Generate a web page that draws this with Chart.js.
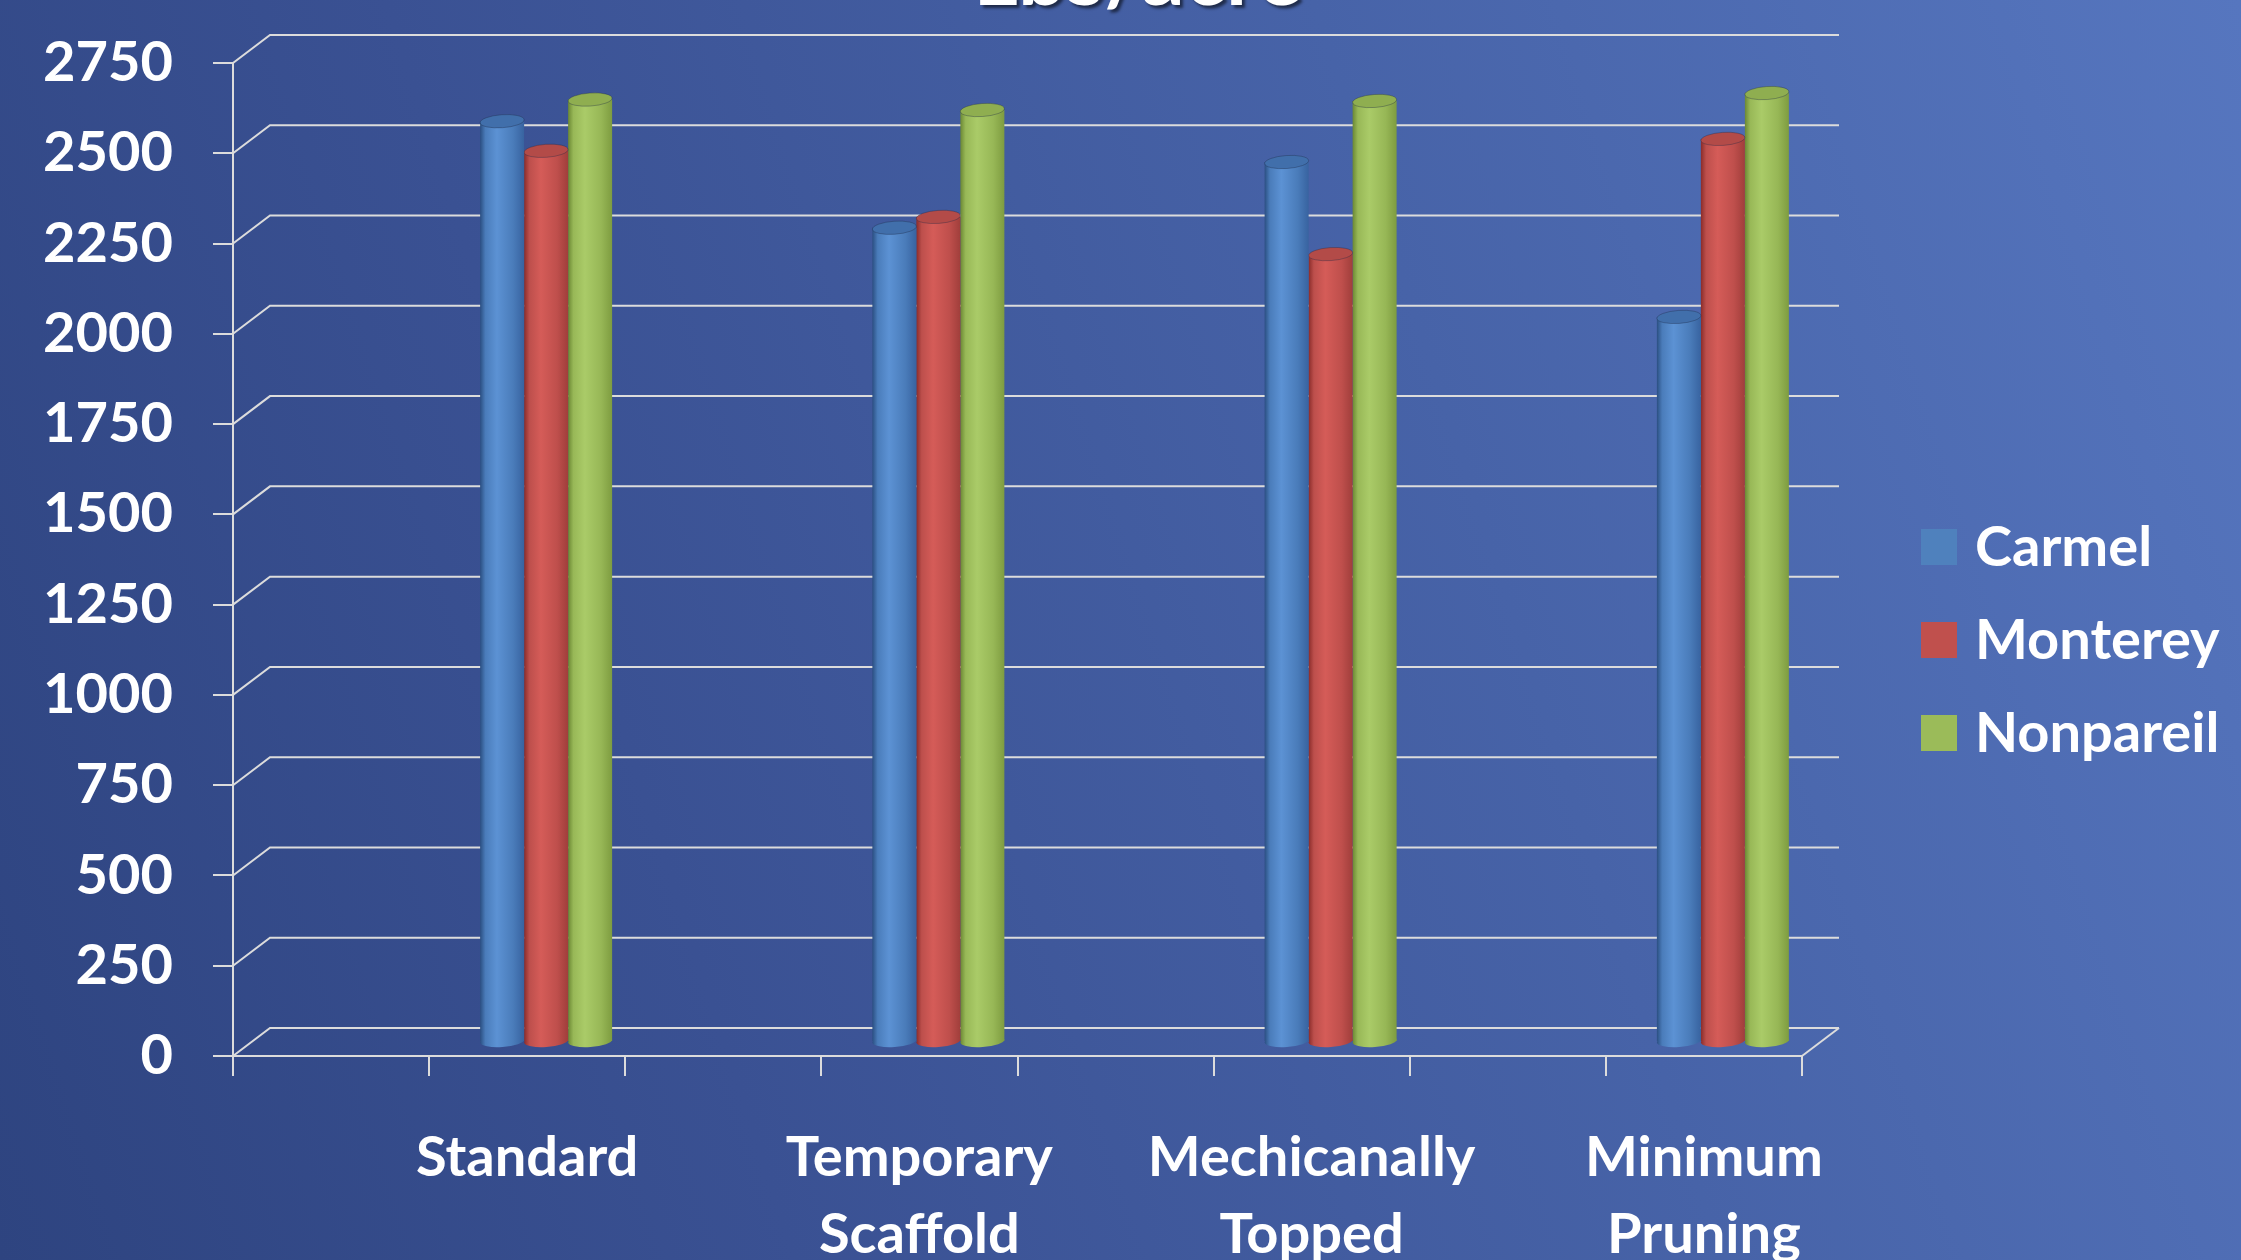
<!DOCTYPE html>
<html>
<head>
<meta charset="utf-8">
<script src="https://cdn.jsdelivr.net/npm/chart.js@4.4.1/dist/chart.umd.min.js"></script>
<style>
  html, body {
    margin: 0; padding: 0; width: 2241px; height: 1260px; overflow: hidden;
    background: linear-gradient(72deg, #2e4480 0%, #3a5193 30%, #4763a8 65%, #5676bf 100%);
  }
  #wrap { position: absolute; left: 0; top: -70px; width: 2241px; height: 1380px; }
</style>
</head>
<body>
<div id="wrap"><canvas id="c" width="2241" height="1380"></canvas></div>
<script>
// Yield per training system (lbs/acre) for three almond varieties
const categories = [['Standard'], ['Temporary', 'Scaffold'], ['Mechicanally', 'Topped'], ['Minimum', 'Pruning']];
const seriesNames = ['Carmel', 'Monterey', 'Nonpareil'];
const carmel    = [2550, 2255, 2437, 2008];
const monterey  = [2468, 2285, 2182, 2501];
const nonpareil = [2610, 2581, 2606, 2628];
const yMin = 0, yMax = 2750, yStep = 250;
const titleText = 'Lbs/acre';

const FONT = 'Lato, "Open Sans", sans-serif';
const GRID = '#dcdcdc';
const DEPTH = { dx: 37, dy: -28 };        // back wall offset of the 3D frame
const BAR_SHIFT = { dx: 117, dy: -14 };   // bars stand mid-depth on the floor

// Cylinder shading: [dark edge, lit, mid, right edge, cap]
const SHADES = [
  { legend: '#4f81bd', stops: ['#2b4f82', '#4a7cba', '#5c92d4', '#4a7cba', '#3863a0'], cap: '#416fab' },
  { legend: '#c0504d', stops: ['#8a2c2a', '#bd4f4c', '#d55c58', '#bf4f4c', '#a03e3b'], cap: '#b34b48' },
  { legend: '#9bbb59', stops: ['#6b8834', '#98b857', '#aacb68', '#97b756', '#7e9c40'], cap: '#8fae50' }
];

function cylGradient(ctx, x, w, stops) {
  const g = ctx.createLinearGradient(x - w / 2, 0, x + w / 2, 0);
  g.addColorStop(0, stops[0]);
  g.addColorStop(0.12, stops[1]);
  g.addColorStop(0.38, stops[2]);
  g.addColorStop(0.75, stops[3]);
  g.addColorStop(1, stops[4]);
  return g;
}

// Back wall gridlines, floor edge and mid-category tick marks of the 3D frame
const frame3d = {
  id: 'frame3d',
  beforeDatasetsDraw(chart) {
    const { ctx, chartArea: a, scales: { x, y } } = chart;
    ctx.save();
    ctx.strokeStyle = GRID;
    ctx.lineWidth = 2;
    y.ticks.forEach(t => {
      const py = y.getPixelForValue(t.value);
      ctx.beginPath();
      ctx.moveTo(a.left, py);
      ctx.lineTo(a.left + DEPTH.dx, py + DEPTH.dy);
      ctx.lineTo(a.right + DEPTH.dx, py + DEPTH.dy);
      ctx.stroke();
    });
    ctx.beginPath();
    ctx.moveTo(a.right, a.bottom);
    ctx.lineTo(a.right + DEPTH.dx, a.bottom + DEPTH.dy);
    ctx.stroke();
    x.ticks.forEach((t, i) => {
      const px = Math.round(x.getPixelForTick(i));
      ctx.beginPath();
      ctx.moveTo(px, a.bottom);
      ctx.lineTo(px, a.bottom + 20);
      ctx.stroke();
    });
    ctx.restore();
  }
};

// Turns each bar into a shaded cylinder standing inside the frame
const cylinders = {
  id: 'cylinders',
  beforeDatasetDraw(chart, args) {
    const { ctx } = chart;
    const shade = SHADES[args.index];
    ctx.save();
    ctx.translate(BAR_SHIFT.dx, BAR_SHIFT.dy);
    args.meta.data.forEach(el => {
      const { x, base, width } = el.getProps(['x', 'base', 'width'], true);
      const g = cylGradient(ctx, x, width, shade.stops);
      el.options = Object.assign({}, el.options, { backgroundColor: g });
      ctx.beginPath();
      ctx.ellipse(x, base, width / 2, 6, -0.07, 0, Math.PI * 2);
      ctx.fillStyle = g;
      ctx.fill();
    });
  },
  afterDatasetDraw(chart, args) {
    const { ctx } = chart;
    const shade = SHADES[args.index];
    args.meta.data.forEach(el => {
      const { x, y, width } = el.getProps(['x', 'y', 'width'], true);
      ctx.beginPath();
      ctx.ellipse(x, y, width / 2, 6.5, -0.07, 0, Math.PI * 2);
      ctx.fillStyle = shade.cap;
      ctx.fill();
      ctx.strokeStyle = 'rgba(30,40,70,0.35)';
      ctx.lineWidth = 1;
      ctx.stroke();
    });
    ctx.restore();
  }
};

// Title (partly above the top edge) and legend on the right
const decorations = {
  id: 'decorations',
  afterDraw(chart) {
    const { ctx } = chart;
    ctx.save();
    ctx.font = 'bold 86px ' + FONT;
    ctx.textAlign = 'center';
    ctx.textBaseline = 'alphabetic';
    ctx.shadowColor = 'rgba(0,0,0,0.55)';
    ctx.shadowOffsetX = 3;
    ctx.shadowOffsetY = 3;
    ctx.shadowBlur = 3;
    ctx.fillStyle = '#ffffff';
    ctx.fillText(titleText, 1138, 75);
    ctx.restore();

    ctx.save();
    ctx.font = 'bold 56px ' + FONT;
    ctx.textBaseline = 'alphabetic';
    ctx.textAlign = 'left';
    chart.data.datasets.forEach((ds, i) => {
      const top = 599 + i * 93;
      ctx.fillStyle = SHADES[i].legend;
      ctx.fillRect(1921, top, 36, 36);
      ctx.fillStyle = '#ffffff';
      ctx.fillText(ds.label, 1975, top + 37);
    });
    ctx.restore();
  }
};

const seriesValues = [carmel, monterey, nonpareil];

new Chart(document.getElementById('c'), {
  type: 'bar',
  data: {
    labels: categories,
    datasets: seriesNames.map((name, i) => ({
      label: name,
      data: seriesValues[i],
      backgroundColor: SHADES[i].legend,
      borderWidth: 0,
      categoryPercentage: 0.3365,
      barPercentage: 1,
      clip: false
    }))
  },
  options: {
    responsive: false,
    animation: false,
    devicePixelRatio: 1,
    layout: { padding: { top: 133, left: 0, right: 439, bottom: 0 } },
    plugins: {
      legend: { display: false },
      tooltip: { enabled: false },
      title: { display: false }
    },
    scales: {
      x: {
        offset: true,
        grid: { offset: true, drawOnChartArea: false, tickLength: 20, color: GRID, lineWidth: 2 },
        border: { display: true, color: GRID, width: 2 },
        ticks: {
          color: '#ffffff',
          font: { family: FONT, size: 56, weight: 'bold', lineHeight: 1.37 },
          padding: 44,
          labelOffset: 98,
          maxRotation: 0,
          autoSkip: false
        },
        afterFit(s) { s.height = 254; }
      },
      y: {
        min: yMin,
        max: yMax,
        grid: { drawOnChartArea: false, tickLength: 20, color: GRID, lineWidth: 2 },
        border: { display: true, color: GRID, width: 2 },
        ticks: {
          stepSize: yStep,
          color: '#ffffff',
          font: { family: FONT, size: 56, weight: 'bold' },
          padding: 40,
          callback: v => String(v)
        },
        afterFit(s) { s.width = 233; }
      }
    }
  },
  plugins: [frame3d, cylinders, decorations]
});
</script>
</body>
</html>
